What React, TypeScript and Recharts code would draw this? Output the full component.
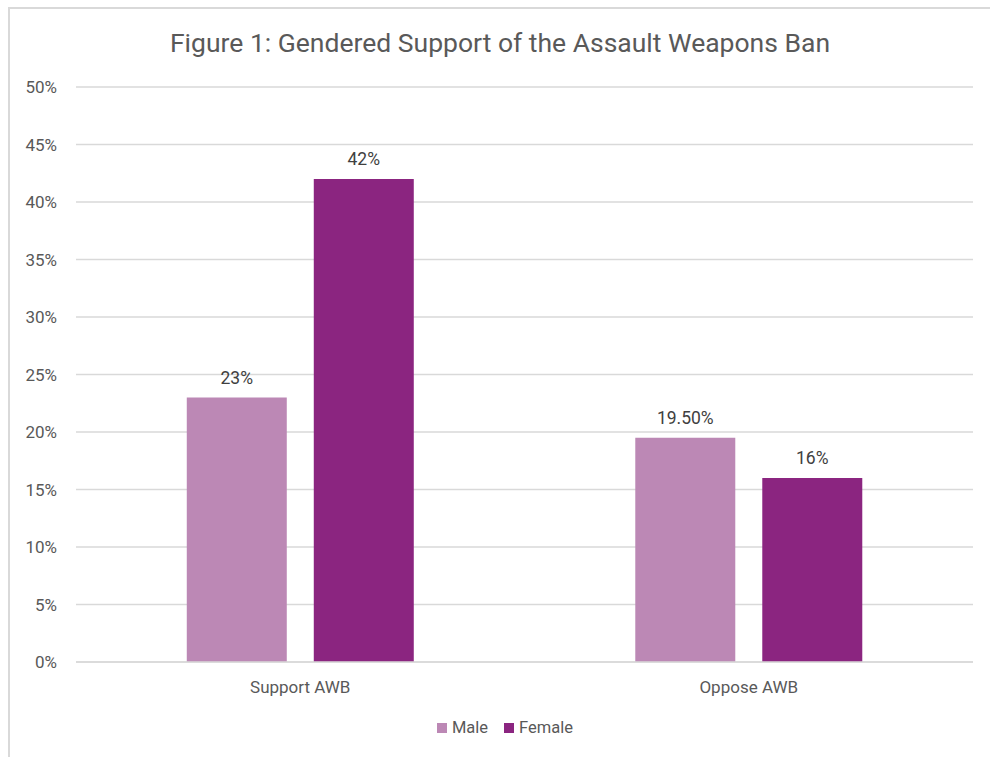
import { BarChart, Bar, XAxis, YAxis, CartesianGrid, LabelList } from "recharts";

const categories = ["Support AWB", "Oppose AWB"];
const maleValues = [23, 19.5];
const femaleValues = [42, 16];
const yTicks = [0, 5, 10, 15, 20, 25, 30, 35, 40, 45, 50];

const MALE = "#bc88b5";
const FEMALE = "#8b2580";
const GRID = "#d9d9d9";
const FONT = "Roboto, 'Liberation Sans', sans-serif";

const data = categories.map((name, i) => ({
  name,
  male: maleValues[i],
  female: femaleValues[i],
}));

const fmt = (v: any) => {
  const n = Number(v);
  return Number.isInteger(n) ? `${n}%` : `${n.toFixed(2)}%`;
};

const legendItems = [
  { name: "Male", color: MALE },
  { name: "Female", color: FEMALE },
];

export default function App() {
  return (
    <div style={{ position: "fixed", left: 0, top: 0, width: 990, height: 757, background: "#fff", overflow: "hidden" }}>
      <div
        style={{
          position: "absolute",
          left: 8,
          top: 7,
          width: 1100,
          height: 900,
          borderLeft: `2px solid ${GRID}`,
          borderTop: `2px solid ${GRID}`,
        }}
      />
      <div
        style={{
          position: "absolute",
          left: 0,
          width: 1000,
          top: 27,
          textAlign: "center",
          fontFamily: FONT,
          fontSize: 26.5,
          color: "#595959",
        }}
      >
        Figure 1: Gendered Support of the Assault Weapons Ban
      </div>
      <div style={{ position: "absolute", left: 0, top: 0 }}>
        <BarChart
          width={990}
          height={757}
          data={data}
          margin={{ top: 87, right: 17, bottom: 65, left: 0 }}
          barCategoryGap="24.7%"
          barGap={27}
        >
          <CartesianGrid vertical={false} stroke={GRID} strokeWidth={1.5} />
          <XAxis
            dataKey="name"
            height={30}
            axisLine={{ stroke: GRID, strokeWidth: 1.5 }}
            tickLine={false}
            tickSize={0}
            tickMargin={19}
            tick={{ fill: "#595959", fontSize: 17, fontFamily: FONT }}
          />
          <YAxis
            width={76}
            domain={[0, 50]}
            ticks={yTicks}
            tickFormatter={(v) => `${v}%`}
            axisLine={false}
            tickLine={false}
            tickSize={0}
            tickMargin={19}
            tick={{ fill: "#595959", fontSize: 17, fontFamily: FONT }}
          />
          <Bar dataKey="male" name="Male" fill={MALE} isAnimationActive={false}>
            <LabelList dataKey="male" position="top" offset={14} formatter={fmt} fill="#404040" fontSize={17.5} fontFamily={FONT} />
          </Bar>
          <Bar dataKey="female" name="Female" fill={FEMALE} isAnimationActive={false}>
            <LabelList dataKey="female" position="top" offset={14} formatter={fmt} fill="#404040" fontSize={17.5} fontFamily={FONT} />
          </Bar>
        </BarChart>
      </div>
      <div
        style={{
          position: "absolute",
          left: 0,
          width: 1010,
          top: 718,
          display: "flex",
          justifyContent: "center",
          gap: 16,
          fontFamily: FONT,
          fontSize: 16.5,
          color: "#595959",
        }}
      >
        {legendItems.map((item) => (
          <div key={item.name} style={{ display: "flex", alignItems: "center", gap: 5 }}>
            <span style={{ width: 10, height: 10, background: item.color, display: "inline-block" }} />
            <span>{item.name}</span>
          </div>
        ))}
      </div>
    </div>
  );
}
